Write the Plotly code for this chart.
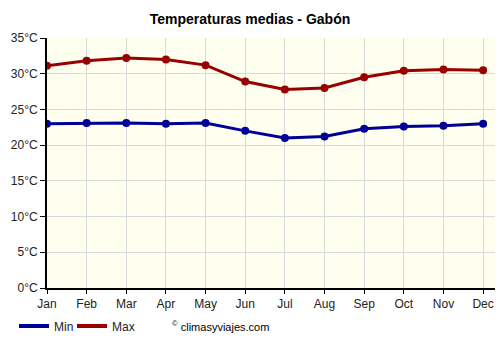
import plotly.graph_objects as go

months = ["Jan", "Feb", "Mar", "Apr", "May", "Jun", "Jul", "Aug", "Sep", "Oct", "Nov", "Dec"]
t_min = [23.0, 23.1, 23.1, 23.0, 23.1, 22.0, 21.0, 21.2, 22.3, 22.6, 22.7, 23.0]
t_max = [31.1, 31.8, 32.2, 32.0, 31.2, 28.9, 27.8, 28.0, 29.5, 30.4, 30.6, 30.5]
y_ticks = [0, 5, 10, 15, 20, 25, 30, 35]
y_labels = [f"{v}°C" for v in y_ticks]

series = [("Min", t_min, "#000099", "legend"), ("Max", t_max, "#990000", "legend2")]

fig = go.Figure()
for name, vals, col, lg in series:
    fig.add_trace(go.Scatter(x=list(range(12)), y=vals, name=name, mode="lines+markers",
                             line=dict(color=col, width=3), marker=dict(size=8, color=col),
                             showlegend=False, legendgroup=name))
for name, vals, col, lg in series:
    fig.add_trace(go.Scatter(x=[None], y=[None], name=name, mode="lines+markers",
                             line=dict(color=col, width=4), marker=dict(size=4, color=col),
                             showlegend=True, legendgroup=name, legend=lg))

leg_common = dict(orientation="h", xref="container", yref="container", y=1 - 326/350,
                  yanchor="middle", xanchor="left", font=dict(size=12, color="#222"),
                  itemwidth=30, bgcolor="rgba(0,0,0,0)")

fig.update_layout(
    width=500, height=350,
    margin=dict(l=47, r=5, t=38, b=62, autoexpand=False),
    paper_bgcolor="white", plot_bgcolor="#FFFFF0",
    font=dict(family="Liberation Sans, Arial, sans-serif", size=12, color="#222"),
    title=dict(text="<b>Temperaturas medias - Gabón</b>", x=0.5, xanchor="center",
               y=1 - 19/350, yref="container", yanchor="middle", font=dict(size=14, color="#000")),
    showlegend=True,
    legend=dict(x=14/500, **leg_common),
    legend2=dict(x=72/500, **leg_common),
    xaxis=dict(range=[0, 11.3], tickmode="array", tickvals=list(range(12)), ticktext=months,
               showgrid=True, gridcolor="#d9d9d9", gridwidth=1, zeroline=False,
               showline=True, linecolor="#000", linewidth=2, ticks="outside", ticklen=4,
               tickcolor="#000", fixedrange=True),
    yaxis=dict(range=[0, 35], tickmode="array", tickvals=y_ticks, ticktext=y_labels,
               showgrid=True, gridcolor="#d9d9d9", gridwidth=1, zeroline=False,
               showline=True, linecolor="#000", linewidth=2, ticks="outside", ticklen=5,
               tickcolor="#000", fixedrange=True),
)
fig.add_annotation(text="<sup>©</sup> climasyviajes.com", xref="paper", yref="paper",
                   x=(170 - 47) / 448, y=-(326 - 288) / 250, xanchor="left", yanchor="middle",
                   showarrow=False, font=dict(size=11, color="#000"))
fig.write_html("out.html")
